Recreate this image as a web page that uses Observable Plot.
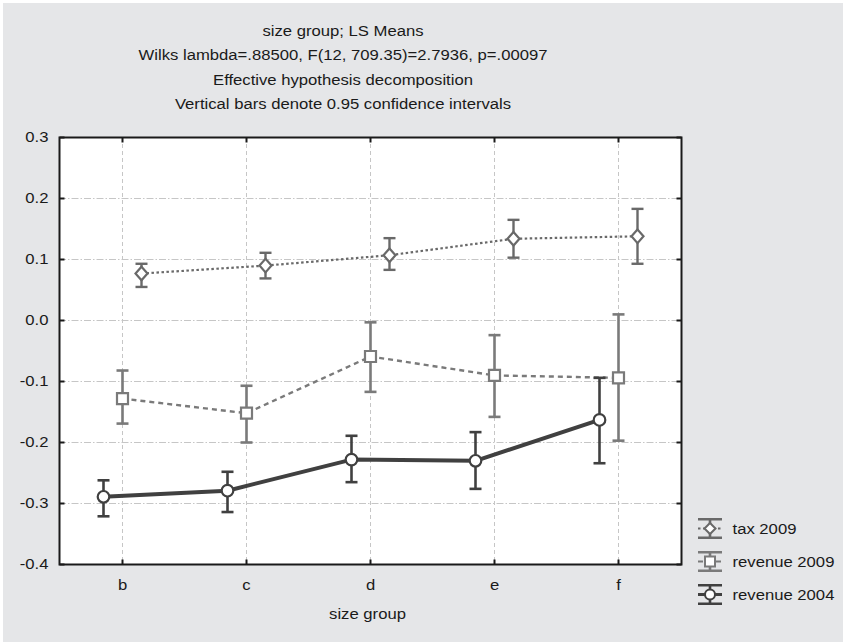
<!DOCTYPE html>
<html><head><meta charset="utf-8">
<script src="https://cdn.jsdelivr.net/npm/d3@7"></script>
<script src="https://cdn.jsdelivr.net/npm/@observablehq/plot@0.6"></script>
<style>
html,body{margin:0;padding:0;background:#fff;}
#page{position:relative;width:843px;height:642px;overflow:hidden;background:#fff;font-family:"Liberation Sans",Arial,sans-serif;color:#1a1a1a;}
#panel{position:absolute;left:3px;top:3px;width:840px;height:639px;background:#e5e6e8;}
#title{position:absolute;left:32px;top:0px;width:622px;height:124px;text-align:center;font-size:14px;line-height:24.4px;padding-top:19px;box-sizing:border-box;}
#title div{transform:scaleX(1.19);transform-origin:center;white-space:nowrap;}
#chart{position:absolute;left:0;top:124px;}
#legend{position:absolute;left:688px;top:505px;}
</style></head><body>
<div id="page"><div id="panel"></div>
<div id="title">
<div>size group; LS Means</div>
<div>Wilks lambda=.88500, F(12, 709.35)=2.7936, p=.00097</div>
<div>Effective hypothesis decomposition</div>
<div>Vertical bars denote 0.95 confidence intervals</div>
</div>
<div id="chart"></div><div id="legend"></div></div>
<script>
// ---- data ----
const categories = ["b", "c", "d", "e", "f"];
const yTicks = [-0.4, -0.3, -0.2, -0.1, 0.0, 0.1, 0.2, 0.3];
const gridTicks = [-0.3, -0.2, -0.1, 0.0, 0.1, 0.2];
const seriesNames = ["tax 2009", "revenue 2009", "revenue 2004"];

const tax2009Mean = [0.077, 0.090, 0.107, 0.134, 0.138];
const tax2009Lo   = [0.055, 0.069, 0.083, 0.103, 0.093];
const tax2009Hi   = [0.093, 0.111, 0.135, 0.165, 0.183];

const rev2009Mean = [-0.128, -0.152, -0.059, -0.090, -0.094];
const rev2009Lo   = [-0.169, -0.200, -0.117, -0.158, -0.197];
const rev2009Hi   = [-0.082, -0.107, -0.003, -0.024, 0.010];

const rev2004Mean = [-0.289, -0.279, -0.228, -0.230, -0.163];
const rev2004Lo   = [-0.321, -0.314, -0.265, -0.276, -0.234];
const rev2004Hi   = [-0.262, -0.248, -0.189, -0.183, -0.094];

// ---- styling ----
const FONT = '"Liberation Sans", Arial, sans-serif';
const STRETCH = 1.19;
const sym = (f) => ({draw(ctx){ f(ctx); }});
const diamondSym = (w, h) => sym(c => {c.moveTo(0,-h);c.lineTo(w,0);c.lineTo(0,h);c.lineTo(-w,0);c.closePath();});
const squareSym = (s) => sym(c => {c.moveTo(-s,-s);c.lineTo(s,-s);c.lineTo(s,s);c.lineTo(-s,s);c.closePath();});
const circleSym = (r) => sym(c => {c.moveTo(r,0);c.arc(0,0,r,0,2*Math.PI);c.closePath();});
const capSym = (w) => sym(c => {c.moveTo(-w,0);c.lineTo(w,0);});
const hTickL = sym(c => {c.moveTo(0,0);c.lineTo(5,0);});
const hTickR = sym(c => {c.moveTo(-5,0);c.lineTo(0,0);});
const vTickT = sym(c => {c.moveTo(0,0);c.lineTo(0,5);});
const vTickB = sym(c => {c.moveTo(0,-5);c.lineTo(0,0);});

const styles = {
  "tax 2009":     {color:"#696969", dash:"2.5 2.5", width:2.2, dx:19,  marker:diamondSym(6,6.8), legendMarker:diamondSym(5.5,5.5), barW:2.4},
  "revenue 2009": {color:"#7a7a7a", dash:"5 4",     width:2.4, dx:0,   marker:squareSym(5.5),   legendMarker:squareSym(5),       barW:2.6},
  "revenue 2004": {color:"#404040", dash:null,      width:4,   dx:-19, marker:circleSym(5.8),   legendMarker:circleSym(5),       barW:2.6}
};
const seriesData = {
  "tax 2009": [tax2009Mean, tax2009Lo, tax2009Hi],
  "revenue 2009": [rev2009Mean, rev2009Lo, rev2009Hi],
  "revenue 2004": [rev2004Mean, rev2004Lo, rev2004Hi]
};
function rows(name){
  const [m, lo, hi] = seriesData[name];
  return categories.map((c,i) => ({cat:c, mean:m[i], lo:lo[i], hi:hi[i]}));
}

const lineMarks = [], barMarks = [], dotMarks = [];
for (const name of seriesNames) {
  const s = styles[name], r = rows(name);
  lineMarks.push(Plot.line(r, {x:"cat", y:"mean", dx:s.dx, stroke:s.color, strokeWidth:s.width, strokeDasharray:s.dash ?? undefined, strokeLinecap:"butt"}));
  barMarks.push(Plot.ruleX(r, {x:"cat", y1:"lo", y2:"hi", dx:s.dx, stroke:s.color, strokeWidth:s.barW}));
  barMarks.push(Plot.dot(r, {x:"cat", y:"hi", dx:s.dx, symbol:capSym(6), stroke:s.color, strokeWidth:s.barW, fill:"none"}));
  barMarks.push(Plot.dot(r, {x:"cat", y:"lo", dx:s.dx, symbol:capSym(6), stroke:s.color, strokeWidth:s.barW, fill:"none"}));
  dotMarks.push(Plot.dot(r, {x:"cat", y:"mean", dx:s.dx, symbol:s.marker, stroke:s.color, strokeWidth:2.2, fill:"white"}));
}

const chart = Plot.plot({
  width: 843, height: 518,
  marginLeft: 59, marginRight: 162, marginTop: 13, marginBottom: 78,
  style: {background:"transparent", fontFamily: FONT, fontSize:"14px", color:"#1a1a1a", overflow:"visible"},
  x: {type:"point", domain: categories, padding: 0.5, label: null},
  y: {domain: [-0.4, 0.3], label: null},
  marks: [
    Plot.frame({fill:"white"}),
    Plot.gridY(gridTicks, {stroke:"#c6c6c6", strokeOpacity:1, strokeWidth:1, strokeDasharray:"7 2 1.5 2"}),
    Plot.gridX(categories, {stroke:"#c6c6c6", strokeOpacity:1, strokeWidth:1, strokeDasharray:"4 3"}),
    ...lineMarks, ...barMarks, ...dotMarks,
    Plot.axisY(yTicks, {tickSize:0, tickPadding:11, tickFormat: d => d.toFixed(1), fontSize:14}),
    Plot.axisX(categories, {tickSize:0, tickPadding:16, fontSize:14}),
    Plot.dot(yTicks, {y:d=>d, frameAnchor:"left", symbol:hTickL, stroke:"#1a1a1a", strokeWidth:2, fill:"none"}),
    Plot.dot(yTicks, {y:d=>d, frameAnchor:"right", symbol:hTickR, stroke:"#1a1a1a", strokeWidth:2, fill:"none"}),
    Plot.dot(categories, {x:d=>d, frameAnchor:"top", symbol:vTickT, stroke:"#1a1a1a", strokeWidth:2, fill:"none"}),
    Plot.dot(categories, {x:d=>d, frameAnchor:"bottom", symbol:vTickB, stroke:"#1a1a1a", strokeWidth:2, fill:"none"}),
    Plot.text(["size group"], {text:d=>d, frameAnchor:"bottom", dx:-3, dy:54.5, fontSize:14, fill:"#1a1a1a"}),
    Plot.frame({stroke:"#1a1a1a", strokeWidth:2})
  ]
});
document.getElementById("chart").appendChild(chart);

// ---- legend ----
const barIcon = sym(c => {c.moveTo(-12,-9.2);c.lineTo(12,-9.2);c.moveTo(-12,9.2);c.lineTo(12,9.2);c.moveTo(0,-9.2);c.lineTo(0,9.2);});
const lineIcon = sym(c => {c.moveTo(-12,0);c.lineTo(12,0);});
const legendMarks = [];
for (const name of seriesNames) {
  const s = styles[name];
  legendMarks.push(Plot.dot([name], {y:d=>d, frameAnchor:"left", dx:21.5, symbol:barIcon, stroke:s.color, strokeWidth:2.6, fill:"none"}));
  legendMarks.push(Plot.dot([name], {y:d=>d, frameAnchor:"left", dx:21.5, symbol:lineIcon, stroke:s.color, strokeWidth:name==="revenue 2004"?3:2.2, strokeDasharray:s.dash ?? undefined, fill:"none"}));
  legendMarks.push(Plot.dot([name], {y:d=>d, frameAnchor:"left", dx:21.5, symbol:s.legendMarker, stroke:s.color, strokeWidth:2, fill:"white"}));
  legendMarks.push(Plot.text([name], {y:d=>d, text:d=>d, frameAnchor:"left", dx:44, dy:1, textAnchor:"start", fontSize:14, fill:"#1a1a1a"}));
}
const legend = Plot.plot({
  width: 155, height: 105, margin: 0,
  style: {background:"transparent", fontFamily: FONT, fontSize:"14px", overflow:"visible"},
  y: {type:"point", domain: seriesNames, range:[22, 89], padding:0, axis:null},
  marks: legendMarks
});
document.getElementById("legend").appendChild(legend);

// widen glyphs horizontally to match the reference's wide lettering
for (const svg of [chart, legend]) {
  svg.querySelectorAll("text").forEach(t => {
    const len = t.getComputedTextLength();
    if (len > 0) {
      t.setAttribute("textLength", (len * STRETCH).toFixed(2));
      t.setAttribute("lengthAdjust", "spacingAndGlyphs");
    }
  });
}
</script>
</body></html>
